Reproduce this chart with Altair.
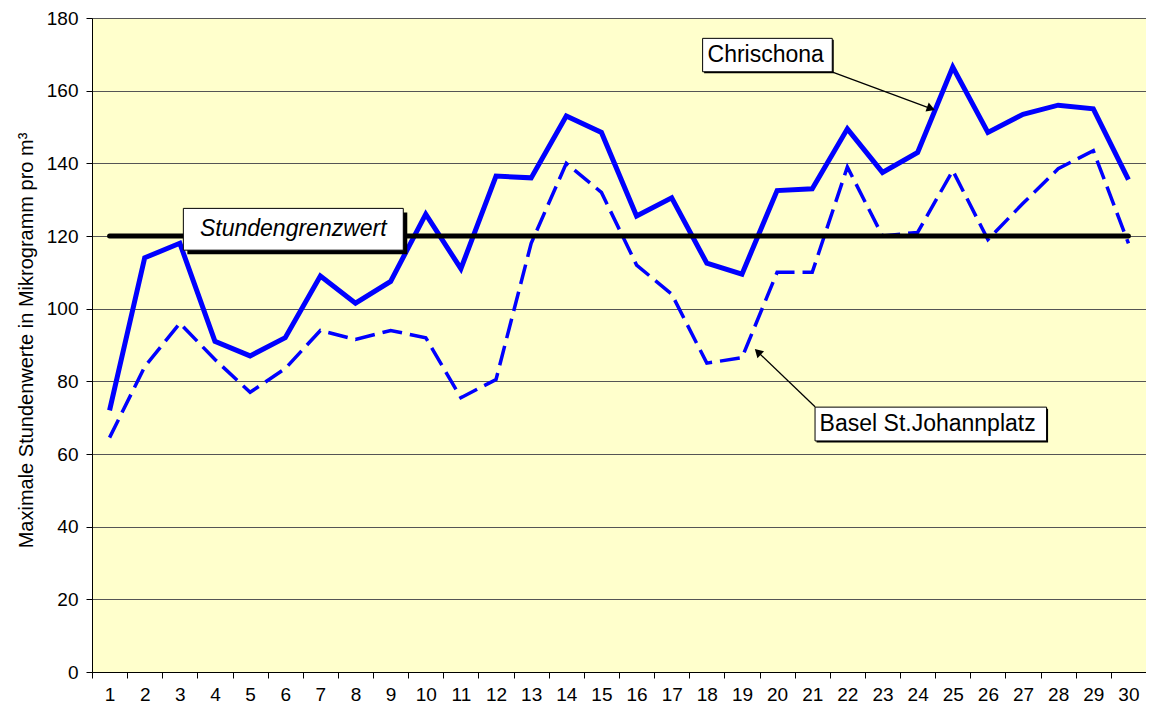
import altair as alt
import pandas as pd

# ---- data ----
days = list(range(1, 31))
chrischona = [72, 114, 118, 91, 87, 92, 109, 101.5, 107.5, 126, 111, 136.5, 136, 153, 148.5,
              125.5, 130.5, 112.5, 109.5, 132.5, 133, 149.5, 137.5, 143, 166.5, 148.5, 153.5, 156, 155, 135.5]
basel = [64.5, 84, 96, 86, 77, 83.5, 94, 91.5, 94, 92, 75.5, 80.5, 118, 140, 132,
         112, 104, 85, 86.5, 110, 110, 139, 120, 121, 138, 119, 129, 138.5, 143.5, 118]
threshold = [120] * 30

series_names = ["Chrischona", "Basel St.Johannplatz", "Stundengrenzwert"]

y_title = "Maximale Stundenwerte in Mikrogramm pro m³"

# annotation boxes (in data units: day, value)
box_labels = ["Stundengrenzwert", "Chrischona", "Basel St.Johannplatz"]
box_x1 = [3.10, 17.88, 21.08]
box_x2 = [9.36, 21.57, 27.67]
box_y1 = [127.6, 174.4, 72.9]
box_y2 = [116.1, 165.2, 63.6]
text_x = [6.23, 18.02, 21.21]
text_y = [121.9, 169.8, 68.3]

# arrows (start -> tip), data units
arrow_x1 = [21.56, 21.08]
arrow_y1 = [165.2, 73.0]
arrow_x2 = [24.40, 19.43]
arrow_y2 = [155.0, 88.3]
head_x = [24.38, 19.45]
head_y = [155.1, 88.1]
head_angle = [110, 314]

FONT = "Liberation Sans"

df = pd.DataFrame({
    "day": days * 3,
    "value": chrischona + basel + threshold,
    "series": [series_names[0]] * 30 + [series_names[1]] * 30 + [series_names[2]] * 30,
})

xband = alt.X("day:O", scale=alt.Scale(type="band", paddingInner=0, paddingOuter=0),
              axis=alt.Axis(title=None, tickBand="extent", labelAngle=0, tickSize=6,
                            labelPadding=7, grid=False, domainColor="black", tickColor="black",
                            labelFont=FONT, labelFontSize=19, labelColor="black"))
yq = alt.Y("value:Q", scale=alt.Scale(domain=[0, 180], nice=False),
           axis=alt.Axis(title=y_title, values=list(range(0, 181, 20)), tickSize=6, labelPadding=8,
                         grid=True, gridColor="#555555", gridWidth=1, domainColor="black",
                         tickColor="black", labelFont=FONT, labelFontSize=19, labelColor="black",
                         titleFont=FONT, titleFontSize=20, titleFontWeight="normal", titleColor="black",
                         titleX=-60, titleY=322, titleBaseline="alphabetic", titleAngle=270))

base = alt.Chart(df)
l_ch = base.transform_filter(alt.datum.series == series_names[0]).mark_line(
    color="#0000FF", strokeWidth=5, strokeJoin="miter").encode(x=xband, y=yq)
l_ba = base.transform_filter(alt.datum.series == series_names[1]).mark_line(
    color="#0000FF", strokeWidth=3.5, strokeDash=[20, 8], strokeJoin="miter").encode(x=xband, y=yq)
l_th = base.transform_filter(alt.datum.series == series_names[2]).mark_line(
    color="black", strokeWidth=5, strokeCap="round").encode(x=xband, y=yq)

lines = alt.layer(l_ch, l_ba, l_th)

# annotations layer with quantitative x aligned to band centers
bx = pd.DataFrame({"label": box_labels, "x1": box_x1, "x2": box_x2, "y1": box_y1, "y2": box_y2,
                   "tx": text_x, "ty": text_y})
ar = pd.DataFrame({"x1": arrow_x1, "y1": arrow_y1, "x2": arrow_x2, "y2": arrow_y2,
                   "hx": head_x, "hy": head_y, "ang": head_angle})

xs = alt.Scale(domain=[0.5, 30.5], nice=False, zero=False)
ys = alt.Scale(domain=[0, 180], nice=False)

def X(f):
    return alt.X(f, scale=xs, axis=None)

def Y(f):
    return alt.Y(f, scale=ys, axis=None)

shadow_big = alt.Chart(bx.iloc[[0]]).mark_rect(color="black", xOffset=4, x2Offset=4, yOffset=4, y2Offset=4).encode(
    x=X("x1:Q"), x2="x2:Q", y=Y("y1:Q"), y2="y2:Q")
shadow_small = alt.Chart(bx.iloc[[1, 2]]).mark_rect(color="black", xOffset=1.5, x2Offset=1.5, yOffset=1.5, y2Offset=1.5).encode(
    x=X("x1:Q"), x2="x2:Q", y=Y("y1:Q"), y2="y2:Q")
boxes = alt.Chart(bx).mark_rect(fill="white", stroke="black", strokeWidth=1).encode(
    x=X("x1:Q"), x2="x2:Q", y=Y("y1:Q"), y2="y2:Q")
txt_it = alt.Chart(bx.iloc[[0]]).mark_text(font=FONT, fontSize=23, fontStyle="italic", align="center",
                                          baseline="middle", color="black").encode(
    x=X("tx:Q"), y=Y("ty:Q"), text="label:N")
txt_n = alt.Chart(bx.iloc[[1, 2]]).mark_text(font=FONT, fontSize=23, align="left",
                                            baseline="middle", color="black").encode(
    x=X("tx:Q"), y=Y("ty:Q"), text="label:N")
arrows = alt.Chart(ar).mark_rule(color="black", strokeWidth=1.3).encode(
    x=X("x1:Q"), x2="x2:Q", y=Y("y1:Q"), y2="y2:Q")
heads = alt.Chart(ar).mark_point(shape="triangle-up", filled=True, color="black", opacity=1, size=90).encode(
    x=X("hx:Q"), y=Y("hy:Q"), angle=alt.Angle("ang:Q", scale=None))

annot = alt.layer(shadow_big, shadow_small, boxes, txt_it, txt_n, arrows, heads)

chart = alt.layer(lines, annot).resolve_scale(x="independent", y="independent").properties(
    width=1054, height=654,
    autosize=alt.AutoSizeParams(type="none"),
    padding={"left": 84, "top": 10, "right": 0, "bottom": 33},
    background="white",
).configure_view(fill="#FFFFCC", stroke="#808080", strokeWidth=1)

chart.save("out.html", embed_options={"renderer": "svg", "actions": False})
